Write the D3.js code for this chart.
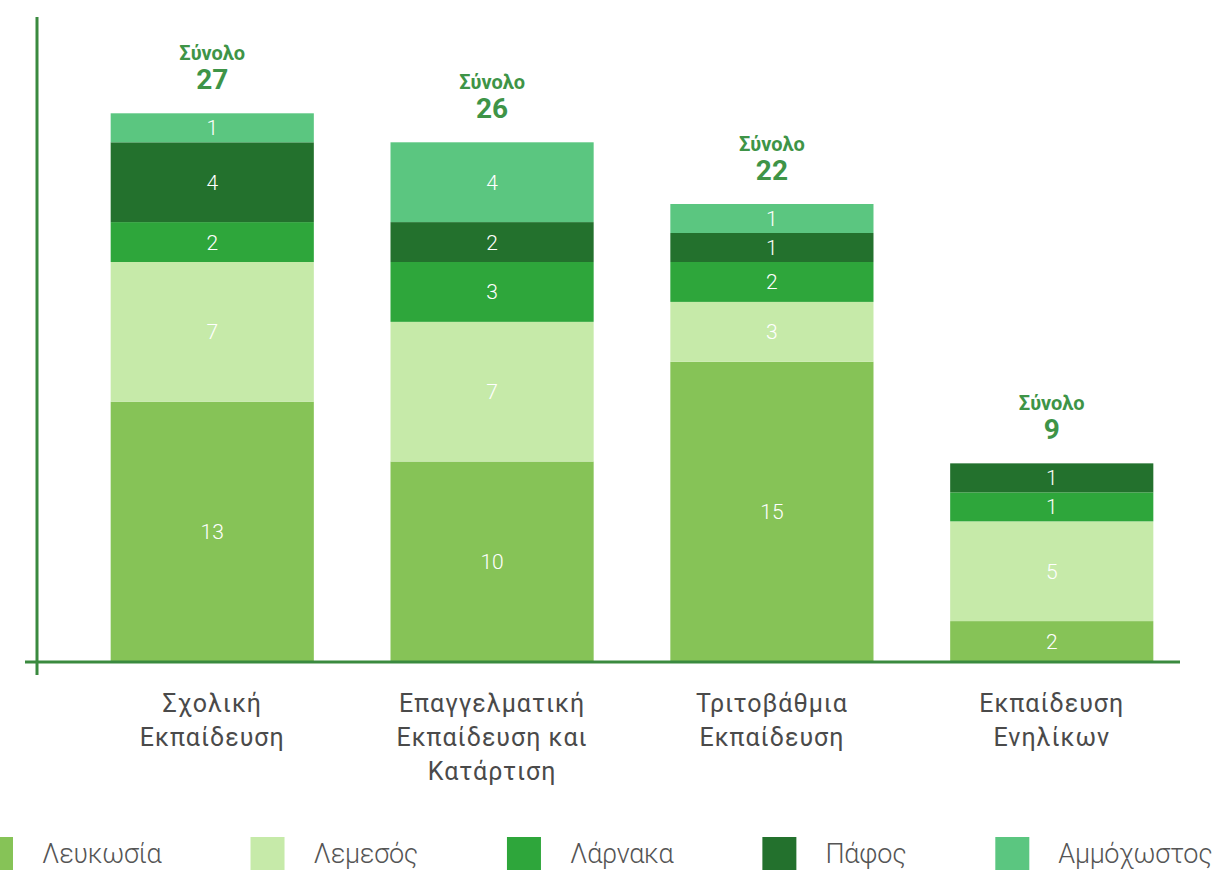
<!DOCTYPE html>
<html>
<head>
<meta charset="utf-8">
<script src="https://cdn.jsdelivr.net/npm/d3@7"></script>
<style>
  body { margin: 0; background: #fff; }
  svg { display: block; font-family: Roboto, "Noto Sans", sans-serif; }
</style>
</head>
<body>
<div id="chart"></div>
<script>
var categories = [
    ["Σχολική", "Εκπαίδευση"],
    ["Επαγγελματική", "Εκπαίδευση και", "Κατάρτιση"],
    ["Τριτοβάθμια", "Εκπαίδευση"],
    ["Εκπαίδευση", "Ενηλίκων"]
];
var seriesNames = ["Λευκωσία", "Λεμεσός", "Λάρνακα", "Πάφος", "Αμμόχωστος"];
var lefkosia = [13, 10, 15, 2];
var lemesos = [7, 7, 3, 5];
var larnaka = [2, 3, 2, 1];
var pafos = [4, 2, 1, 1];
var ammochostos = [1, 4, 1, 0];
var totals = [27, 26, 22, 9];
var totalWord = "Σύνολο";

var colors = ["#86c357", "#c6eaa9", "#2ea63b", "#23712d", "#5bc680"];
var series = [lefkosia, lemesos, larnaka, pafos, ammochostos];

var width = 1229, height = 870;
var baseY = 661;
var minSeg = 29; // small segments get a minimum height in the original

var svg = d3.select("#chart").append("svg")
    .attr("width", width)
    .attr("height", height);

var x = d3.scaleBand()
    .domain(d3.range(categories.length))
    .range([34, 1230])
    .padding(0.274);

var y = d3.scaleLinear().domain([0, 30]).range([baseY, baseY - 598.5]);

// build stacked segments in pixel space
var segs = [];
var tops = [];
categories.forEach(function (c, i) {
    var cur = baseY;
    series.forEach(function (s, k) {
        var v = s[i];
        if (!v) return;
        var h = Math.max(y(0) - y(v), minSeg);
        segs.push({ i: i, k: k, v: v, y0: cur - h, h: h });
        cur -= h;
    });
    tops.push(cur);
});

svg.selectAll("rect.seg")
    .data(segs)
    .enter().append("rect")
    .attr("class", "seg")
    .attr("x", function (d) { return x(d.i); })
    .attr("y", function (d) { return d.y0; })
    .attr("width", x.bandwidth())
    .attr("height", function (d) { return d.h; })
    .attr("fill", function (d) { return colors[d.k]; });

svg.selectAll("text.val")
    .data(segs)
    .enter().append("text")
    .attr("class", "val")
    .attr("x", function (d) { return x(d.i) + x.bandwidth() / 2; })
    .attr("y", function (d) { return d.y0 + d.h / 2 + 7.5; })
    .attr("text-anchor", "middle")
    .attr("fill", "#fff")
    .attr("font-size", "21px")
    .attr("font-weight", 300)
    .text(function (d) { return d.v; });

// totals
categories.forEach(function (c, i) {
    var cx = x(i) + x.bandwidth() / 2;
    svg.append("text")
        .attr("x", cx)
        .attr("y", tops[i] - 53)
        .attr("text-anchor", "middle")
        .attr("fill", "#3e9447")
        .attr("font-size", "20px")
        .attr("font-weight", "bold")
        .text(totalWord);
    svg.append("text")
        .attr("x", cx)
        .attr("y", tops[i] - 24)
        .attr("text-anchor", "middle")
        .attr("fill", "#3e9447")
        .attr("font-size", "28px")
        .attr("font-weight", "bold")
        .text(totals[i]);
});

// axes lines
svg.append("line")
    .attr("x1", 37).attr("x2", 37)
    .attr("y1", 17).attr("y2", 675)
    .attr("stroke", "#3a8a3f").attr("stroke-width", 3);
svg.append("line")
    .attr("x1", 25).attr("x2", 1180)
    .attr("y1", baseY + 1).attr("y2", baseY + 1)
    .attr("stroke", "#3a8a3f").attr("stroke-width", 3);

// category labels
categories.forEach(function (lines, i) {
    var t = svg.append("text")
        .attr("text-anchor", "middle")
        .attr("fill", "#4a4a4a")
        .attr("font-size", "25px")
        .attr("letter-spacing", "1px");
    lines.forEach(function (l, j) {
        t.append("tspan")
            .attr("x", x(i) + x.bandwidth() / 2)
            .attr("y", 712 + j * 34)
            .text(l);
    });
});

// legend, flowing from left (first swatch runs off the edge like the original)
var lx = -21;
seriesNames.forEach(function (name, k) {
    svg.append("rect")
        .attr("x", lx).attr("y", 837)
        .attr("width", 34).attr("height", 40)
        .attr("fill", colors[k]);
    var t = svg.append("text")
        .attr("x", lx + 63)
        .attr("y", 863)
        .attr("fill", "#555")
        .attr("font-size", "27px")
        .attr("font-weight", 300)
        .attr("letter-spacing", "-0.3px")
        .text(name);
    lx += 63 + t.node().getComputedTextLength() + 89;
});
</script>
</body>
</html>
